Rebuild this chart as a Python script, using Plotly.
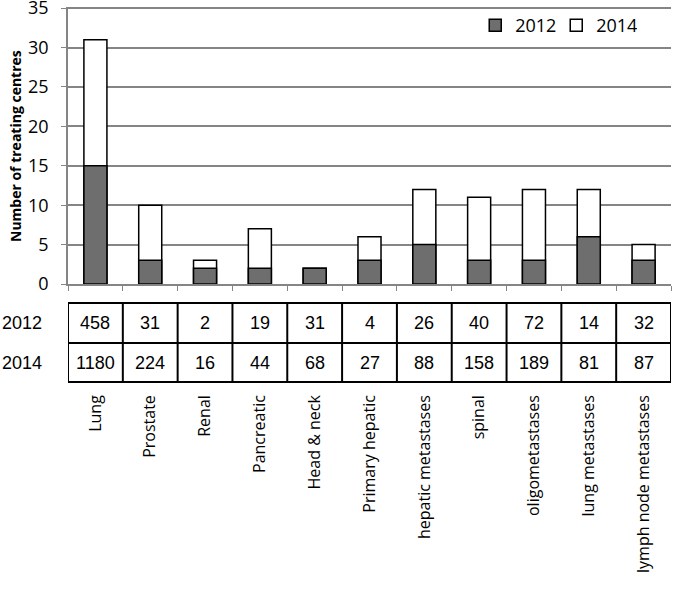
import plotly.graph_objects as go

categories = ["Lung", "Prostate", "Renal", "Pancreatic", "Head & neck", "Primary hepatic",
              "hepatic metastases", "spinal", "oligometastases", "lung metastases",
              "lymph node metastases"]
centres_2012 = [15, 3, 2, 2, 2, 3, 5, 3, 3, 6, 3]
centres_2014 = [31, 10, 3, 7, 2, 6, 12, 11, 12, 12, 5]
patients_2012 = [458, 31, 2, 19, 31, 4, 26, 40, 72, 14, 32]
patients_2014 = [1180, 224, 16, 44, 68, 27, 88, 158, 189, 81, 87]
row_labels = ["2012", "2014"]
y_ticks = [0, 5, 10, 15, 20, 25, 30, 35]
y_title = "Number of treating centres"

W, H = 676, 592
ml, mr, mt, mb = 68, 5, 7, 308
plot_h = H - mt - mb
plot_w = W - ml - mr

def py2paper(py):
    return (H - mb - py) / plot_h

fig = go.Figure()
fig.add_trace(go.Bar(x=categories, y=centres_2014, name="2014",
                     marker=dict(color="white", line=dict(color="black", width=1.5)),
                     width=0.42, legendrank=2))
fig.add_trace(go.Bar(x=categories, y=centres_2012, name="2012",
                     marker=dict(color="#6e6e6e", line=dict(color="black", width=1.5)),
                     width=0.42, legendrank=1))

# table below the chart
n = len(categories)
table_top, table_mid, table_bot = py2paper(303), py2paper(343), py2paper(382)
shapes = []
for yv in [table_top, table_mid, table_bot]:
    shapes.append(dict(type="line", xref="x", yref="paper", x0=-0.5, x1=n - 0.5,
                       y0=yv, y1=yv, line=dict(color="black", width=2)))
for i in range(n + 1):
    shapes.append(dict(type="line", xref="x", yref="paper", x0=i - 0.5, x1=i - 0.5,
                       y0=table_top, y1=table_bot, line=dict(color="black", width=2)))

annotations = []
tfont = dict(family="Liberation Sans Narrow, Liberation Sans, Arial", size=18, color="black")
for row, vals, yc in [(row_labels[0], patients_2012, (table_top + table_mid) / 2),
                      (row_labels[1], patients_2014, (table_mid + table_bot) / 2)]:
    annotations.append(dict(text=row, xref="paper", yref="paper", x=0, y=yc, xshift=-24,
                            xanchor="right", yanchor="middle", showarrow=False, font=tfont))
    for c, v in zip(categories, vals):
        annotations.append(dict(text=str(v), xref="x", yref="paper", x=c, y=yc,
                                xanchor="center", yanchor="middle", showarrow=False, font=tfont))

# y axis title
annotations.append(dict(text="<b>" + y_title + "</b>", xref="paper", yref="paper",
                        x=(15 - ml) / plot_w, y=py2paper(146), textangle=-90,
                        xanchor="center", yanchor="middle", showarrow=False,
                        font=dict(size=14, family="Open Sans", color="black")))

fig.update_layout(
    width=W, height=H,
    margin=dict(l=ml, r=mr, t=mt, b=mb, autoexpand=False),
    barmode="overlay",
    plot_bgcolor="white", paper_bgcolor="white",
    font=dict(family="Open Sans, Noto Sans, sans-serif", color="black"),
    shapes=shapes, annotations=annotations,
    legend=dict(orientation="h", x=0.944, xanchor="right", y=1.0, yanchor="top",
                font=dict(size=18, family="Open Sans"), bgcolor="rgba(0,0,0,0)",
                itemwidth=30, entrywidth=36, tracegroupgap=0),
    bargap=0.58,
)
fig.update_yaxes(range=[0, 35.15], tickvals=y_ticks, showgrid=True, gridcolor="#858585",
                 gridwidth=1.5, showline=True, linecolor="#858585", linewidth=1.5,
                 ticks="outside", ticklen=5, tickcolor="#858585", zeroline=False,
                 automargin=False, ticklabelstandoff=9, ticklabeloverflow="allow",
                 tickfont=dict(size=18, family="Open Sans"))
fig.update_xaxes(showline=True, linecolor="#858585", linewidth=1.5, ticks="outside",
                 tickson="boundaries", ticklen=5, tickcolor="#858585", tickangle=-90,
                 automargin=False, ticklabeloverflow="allow",
                 ticklabelstandoff=103, tickfont=dict(size=16, family="Open Sans"),
                 range=[-0.5, n - 0.5])

fig.write_html("out.html", config={"displayModeBar": False},
               post_script="document.body.style.margin='0';")
